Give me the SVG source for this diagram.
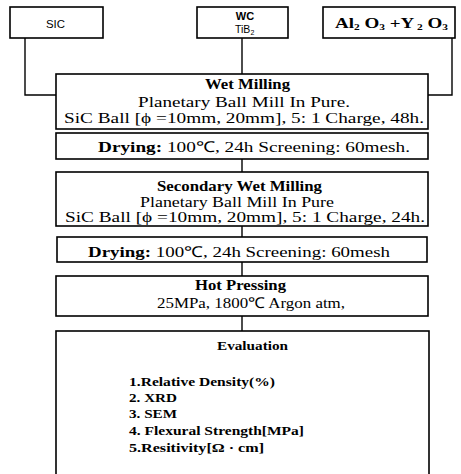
<svg xmlns="http://www.w3.org/2000/svg" width="461" height="474" viewBox="0 0 461 474">
<style>
.box{fill:#fff;stroke:#000;stroke-width:1.6}
.ln{fill:none;stroke:#000;stroke-width:1.4}
.s{font-family:"Liberation Serif",serif;fill:#000}
.sb{font-family:"Liberation Serif",serif;font-weight:bold;fill:#000}
.ss{font-family:"Liberation Sans",sans-serif;fill:#000}
</style>
<rect width="461" height="474" fill="#fff"/>
<g id="connectors">
<polyline class="ln" points="25,38 25,95 56,95"/>
<line class="ln" x1="242" y1="38" x2="242" y2="74"/>
<polyline class="ln" points="452,38 452,95 428,95"/>
<line class="ln" x1="242" y1="159" x2="242" y2="172"/>
<line class="ln" x1="242" y1="226" x2="242" y2="237"/>
<line class="ln" x1="242" y1="262" x2="242" y2="276"/>
<line class="ln" x1="242" y1="316" x2="242" y2="331"/>
</g>
<g id="sic">
<rect class="box" x="10" y="7" width="93" height="31"/>
<text class="ss" x="46" y="28" font-size="11.5" textLength="19" lengthAdjust="spacingAndGlyphs">SIC</text>
</g>
<g id="wc">
<rect class="box" x="197" y="7" width="91" height="31"/>
<text class="ss" x="245" y="20" font-size="11" font-weight="bold" text-anchor="middle">WC</text>
<text class="ss" x="235" y="33" font-size="10.5">TiB<tspan font-size="7" dy="2">2</tspan></text>
</g>
<g id="oxides">
<rect class="box" x="323" y="7" width="132" height="31"/>
<text class="sb" x="335" y="28" font-size="15" textLength="113" lengthAdjust="spacingAndGlyphs">Al<tspan font-size="9" dy="2">2</tspan><tspan dy="-2"> O</tspan><tspan font-size="9" dy="2">3</tspan><tspan dy="-2"> +Y</tspan><tspan font-size="9" dy="2"> 2</tspan><tspan dy="-2"> O</tspan><tspan font-size="9" dy="2">3</tspan></text>
</g>
<g id="wet-milling">
<rect class="box" x="56" y="74" width="372" height="55"/>
<text class="sb" x="205" y="89" font-size="14" textLength="85" lengthAdjust="spacingAndGlyphs">Wet Milling</text>
<text class="s" x="138" y="107" font-size="15" textLength="212" lengthAdjust="spacingAndGlyphs">Planetary Ball Mill In Pure.</text>
<text class="s" x="64" y="123" font-size="15" textLength="360" lengthAdjust="spacingAndGlyphs">SiC Ball [ϕ =10mm,  20mm],  5: 1 Charge, 48h.</text>
</g>
<g id="drying-1">
<rect class="box" x="56" y="133" width="372" height="26"/>
<text class="s" x="98" y="152" font-size="15" textLength="312" lengthAdjust="spacingAndGlyphs"><tspan font-weight="bold">Drying:</tspan> 100℃, 24h  Screening: 60mesh.</text>
</g>
<g id="secondary-wet-milling">
<rect class="box" x="56" y="172" width="372" height="54"/>
<text class="sb" x="157" y="191" font-size="14" textLength="165" lengthAdjust="spacingAndGlyphs">Secondary Wet Milling</text>
<text class="s" x="140" y="207" font-size="15" textLength="194" lengthAdjust="spacingAndGlyphs">Planetary Ball Mill In Pure</text>
<text class="s" x="65" y="222" font-size="15" textLength="360" lengthAdjust="spacingAndGlyphs">SiC Ball [ϕ =10mm,  20mm],  5: 1 Charge, 24h.</text>
</g>
<g id="drying-2">
<rect class="box" x="57" y="237" width="370" height="25"/>
<text class="s" x="88" y="257" font-size="15" textLength="302" lengthAdjust="spacingAndGlyphs"><tspan font-weight="bold">Drying:</tspan> 100℃, 24h  Screening: 60mesh</text>
</g>
<g id="hot-pressing">
<rect class="box" x="56" y="276" width="372" height="40"/>
<text class="sb" x="195" y="290" font-size="14" textLength="91" lengthAdjust="spacingAndGlyphs">Hot Pressing</text>
<text class="s" x="157" y="308" font-size="15" textLength="188" lengthAdjust="spacingAndGlyphs">25MPa, 1800℃  Argon atm,</text>
</g>
<g id="evaluation">
<rect class="box" x="56" y="331" width="373" height="160"/>
<text class="sb" x="217" y="350" font-size="12" textLength="71" lengthAdjust="spacingAndGlyphs">Evaluation</text>
<text class="sb" font-size="13" x="129" y="386" textLength="146" lengthAdjust="spacingAndGlyphs">1.Relative Density(%)</text>
<text class="sb" font-size="13" x="129" y="402" textLength="48" lengthAdjust="spacingAndGlyphs">2. XRD</text>
<text class="sb" font-size="13" x="129" y="418" textLength="48" lengthAdjust="spacingAndGlyphs">3. SEM</text>
<text class="sb" font-size="13" x="129" y="435" textLength="175" lengthAdjust="spacingAndGlyphs">4. Flexural Strength[MPa]</text>
<text class="sb" font-size="13" x="129" y="452" textLength="135" lengthAdjust="spacingAndGlyphs">5.Resitivity[Ω   · cm]</text>
</g>
</svg>
